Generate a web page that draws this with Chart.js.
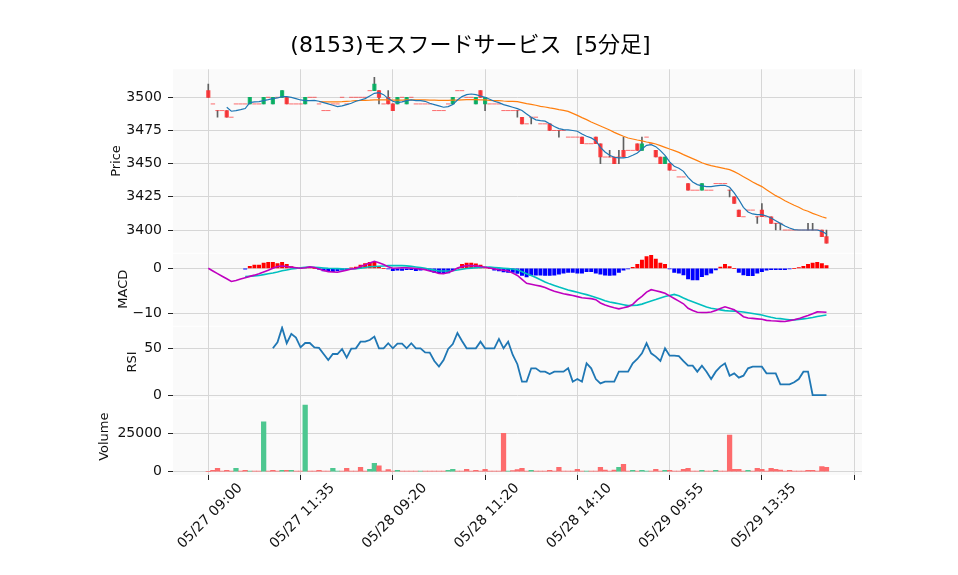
<!DOCTYPE html>
<html><head><meta charset="utf-8">
<script src="https://cdn.jsdelivr.net/npm/chart.js@4.4.1/dist/chart.umd.min.js"></script>
<style>html,body{margin:0;padding:0;background:#fff;}canvas{display:block;}</style>
</head><body>
<canvas id="c" width="958" height="575"></canvas>
<script>
const titleText = '(8153)モスフードサービス  [5分足]';
const tickIdx = [0,20,40,60,80,100,120,140];
const tickLabels = ['05/27 09:00','05/27 11:35','05/28 09:20','05/28 11:20','05/28 14:10','05/29 09:55','05/29 13:35',''];

const open = [3505,3495,3490,3490,3490,3485,3495,3495,3495,3495,
3495,3495,3495,3500,3495,3500,3500,3500,3495,3495,
3495,3495,3500,3500,3495,3490,3490,3495,3495,3500,
3495,3500,3500,3500,3500,3505,3505,3505,3495,3500,
3495,3495,3500,3495,3500,3495,3495,3495,3495,3490,
3490,3490,3495,3495,3505,3505,3500,3500,3495,3505,
3495,3495,3495,3495,3490,3490,3490,3490,3485,3480,
3485,3485,3480,3480,3480,3475,3475,3475,3470,3470,
3470,3470,3465,3465,3470,3465,3455,3455,3455,3455,
3460,3460,3460,3465,3460,3470,3465,3460,3455,3450,
3450,3445,3440,3440,3435,3430,3430,3430,3430,3430,
3435,3435,3435,3430,3425,3415,3410,3415,3415,3410,
3415,3410,3410,3405,3405,3400,3400,3400,3400,3400,
3400,3400,3400,3400,3395];
const high = [3510,3495,3490,3490,3490,3485,3495,3495,3495,3500,
3495,3495,3500,3500,3500,3500,3505,3500,3495,3495,
3495,3500,3500,3500,3495,3490,3490,3495,3495,3500,
3495,3500,3500,3500,3500,3505,3515,3505,3495,3505,
3495,3500,3500,3500,3500,3495,3495,3495,3495,3490,
3490,3490,3495,3500,3505,3505,3500,3500,3500,3505,
3500,3495,3495,3495,3490,3490,3490,3490,3485,3480,
3485,3485,3480,3480,3480,3475,3475,3475,3470,3470,
3470,3470,3465,3465,3470,3465,3455,3460,3455,3460,
3470,3460,3460,3465,3470,3470,3465,3460,3455,3455,
3450,3445,3440,3440,3435,3430,3430,3435,3430,3430,
3435,3435,3435,3430,3425,3415,3410,3415,3415,3410,
3420,3410,3410,3405,3405,3400,3400,3400,3400,3400,
3405,3405,3400,3400,3400];
const low = [3500,3495,3485,3490,3485,3485,3495,3495,3495,3495,
3495,3495,3495,3500,3495,3500,3500,3495,3495,3495,
3495,3495,3500,3500,3495,3490,3490,3495,3495,3500,
3495,3500,3500,3500,3500,3505,3505,3495,3495,3495,
3490,3495,3500,3495,3500,3495,3495,3495,3495,3490,
3490,3490,3495,3495,3505,3505,3500,3500,3495,3500,
3490,3495,3495,3495,3490,3490,3490,3485,3480,3480,
3480,3485,3480,3480,3475,3475,3470,3475,3470,3470,
3470,3465,3465,3465,3465,3450,3455,3455,3450,3450,
3455,3460,3460,3460,3460,3470,3465,3455,3450,3450,
3445,3445,3440,3440,3430,3430,3430,3430,3430,3430,
3435,3435,3435,3425,3420,3410,3410,3415,3415,3405,
3410,3410,3405,3400,3400,3400,3400,3400,3400,3400,
3400,3400,3400,3395,3390];
const close = [3500,3495,3490,3490,3485,3485,3495,3495,3495,3500,
3495,3495,3500,3500,3500,3500,3505,3495,3495,3495,
3495,3500,3500,3500,3495,3490,3490,3495,3495,3500,
3495,3500,3500,3500,3500,3505,3510,3500,3495,3495,
3490,3500,3500,3500,3500,3495,3495,3495,3495,3490,
3490,3490,3495,3500,3505,3505,3500,3500,3500,3500,
3500,3495,3495,3495,3490,3490,3490,3490,3480,3480,
3485,3485,3480,3480,3475,3475,3475,3475,3470,3470,
3470,3465,3465,3465,3465,3455,3455,3455,3450,3455,
3455,3460,3460,3460,3465,3470,3465,3455,3450,3455,
3445,3445,3440,3440,3430,3430,3430,3435,3430,3430,
3435,3435,3435,3430,3420,3410,3410,3415,3415,3410,
3410,3410,3405,3405,3405,3400,3400,3400,3400,3400,
3400,3400,3400,3395,3390];
const volume = [0,900,2200,450,900,450,2200,450,900,400,
450,300,32500,300,900,300,900,900,900,450,
300,43400,450,300,900,450,300,2200,400,450,
2200,450,300,2800,450,1500,5400,3900,450,1300,
450,900,450,300,450,300,400,450,300,450,
300,450,900,1500,450,300,1500,450,900,450,
1500,450,300,450,24900,450,700,1300,2200,450,
900,450,300,450,900,450,2800,450,300,450,
1500,450,450,300,450,2800,1100,450,1100,2800,
4800,450,900,450,900,400,450,1500,450,900,
900,450,300,1500,2200,450,300,900,450,300,
900,450,300,23900,1500,1500,450,900,450,2200,
1500,450,2200,1500,1100,450,900,450,300,450,
900,900,450,3300,2800];
const volumeUpIdx = [6,9,12,16,18,21,27,28,35,36,41,46,52,53,65,70,82,89,92,94,95,99,107,110,117];

const ma5 = [null,null,null,null,3492.5,3489.5,3490,3490.7,3491.5,3496,
3496.5,3496.8,3497.5,3498.2,3499,3499.5,3500.5,3500.5,3500,3499,
3498,3497.5,3497.5,3497.7,3497,3496,3495,3494,3493,3493.5,
3494.5,3495.5,3497,3498,3499,3501,3503,3503.5,3502,3499,
3497,3496,3496.5,3497.5,3498,3497.5,3497.5,3497,3495.5,3494.5,
3493.5,3492.5,3493,3494.5,3498,3500.5,3502,3502.5,3502,3501,
3500,3498.5,3497,3496,3494.5,3493.5,3492.5,3491.5,3490,3487.5,
3485,3483,3482.4,3482,3480,3478,3476.4,3475.6,3475.4,3475,
3474.4,3472.4,3470.6,3469.4,3467.3,3462.3,3458.8,3456.3,3454.8,3454.3,
3454.3,3454.8,3456.3,3458,3461,3463.8,3464.3,3462.8,3459.8,3456.3,
3451.3,3448,3446.5,3444.2,3439.7,3436.2,3434.2,3433.2,3432.7,3432.7,
3433.2,3433.7,3433.7,3432.2,3427.9,3422.9,3417.1,3413.6,3412.1,3411.6,
3411.6,3410.6,3409,3407,3405,3403,3401.5,3400.3,3400,3400,
3400,3400,3400,3399,3397];
const ma25 = [null,null,null,null,null,null,null,null,null,null,
null,null,null,null,null,null,null,null,null,null,
null,null,null,null,3496.7,3496.5,3496.5,3496.5,3496.5,3496.7,
3497.0,3497.2,3497.5,3497.6,3497.7,3497.8,3498.0,3498.1,3498.1,3498.0,
3497.9,3497.9,3497.9,3498.0,3498.1,3498.1,3498.0,3498.0,3497.9,3497.8,
3497.7,3497.7,3497.7,3497.8,3497.9,3498.1,3498.2,3498.2,3498.2,3498.1,
3498.0,3497.7,3497.5,3497.5,3497.2,3497.0,3497.0,3496.7,3496.0,3495.2,
3494.7,3494.0,3493.2,3492.7,3492.0,3491.5,3490.7,3490.2,3489.4,3487.9,
3486.4,3484.7,3483.2,3481.4,3479.9,3478.4,3476.9,3475.4,3473.6,3472.1,
3470.6,3469.3,3468.6,3467.8,3467.1,3466.3,3465.6,3464.8,3463.6,3462.3,
3461.0,3459.8,3458.5,3456.8,3455.3,3453.8,3452.3,3450.7,3449.5,3448.5,
3447.7,3447.0,3446.2,3445.5,3444.0,3442.2,3440.2,3438.2,3436.2,3434.4,
3432.7,3430.4,3428.1,3425.9,3424.1,3422.1,3420.3,3418.6,3417.1,3415.3,
3414.1,3412.5,3411.3,3410.0,3409.0];
const macd = [0,-0.59,-1.19,-1.76,-2.33,-2.92,-2.69,-2.39,-2.09,-1.79,
-1.52,-1.21,-0.81,-0.41,-0.01,0.39,0.52,0.39,0.26,0.13,
0.02,0.13,0.31,0.17,-0.17,-0.48,-0.74,-0.81,-0.87,-0.65,
-0.41,-0.17,-0.02,0.42,0.77,1.19,1.57,1.24,0.86,0.37,
0.01,0.07,0.12,0.13,0.05,-0.03,-0.16,-0.29,-0.60,-0.81,
-1.14,-1.19,-0.94,-0.56,0.06,0.37,0.61,0.59,0.55,0.41,
0.24,0.07,-0.13,-0.32,-0.44,-0.59,-1.07,-1.6,-2.44,-3.35,
-3.56,-3.75,-3.96,-4.27,-4.72,-5.12,-5.39,-5.64,-5.85,-6.06,
-6.30,-6.53,-6.64,-6.74,-6.98,-7.71,-8.17,-8.47,-8.78,-9.01,
-8.79,-8.52,-8.02,-7.04,-6.23,-5.30,-4.76,-5.00,-5.24,-5.57,
-6.13,-6.72,-7.3,-7.89,-8.90,-9.39,-9.78,-9.81,-9.84,-9.71,
-9.36,-8.93,-8.55,-8.89,-9.23,-9.98,-10.76,-11.04,-11.14,-11.24,
-11.33,-11.58,-11.67,-11.73,-11.79,-11.84,-11.63,-11.42,-11.19,-10.85,
-10.50,-10.10,-9.69,-9.70,-9.78];
const signal = [null,null,null,null,null,null,null,null,-1.84,-1.76,
-1.69,-1.60,-1.41,-1.22,-1.03,-0.80,-0.54,-0.36,-0.17,-0.03,
0.12,0.20,0.27,0.25,0.16,0.08,0,-0.04,-0.08,-0.13,
-0.15,-0.15,-0.08,0.03,0.17,0.33,0.41,0.47,0.53,0.59,
0.59,0.59,0.59,0.55,0.42,0.30,0.18,-0.01,-0.22,-0.41,
-0.59,-0.59,-0.59,-0.55,-0.39,-0.22,-0.05,0.04,0.11,0.19,
0.25,0.27,0.19,0.10,0.02,-0.07,-0.16,-0.3,-0.75,-1.21,
-1.60,-2.04,-2.55,-3.03,-3.46,-3.80,-4.15,-4.47,-4.81,-5.07,
-5.33,-5.59,-5.85,-6.17,-6.50,-6.84,-7.19,-7.48,-7.69,-7.90,
-8.09,-8.30,-8.24,-8.18,-7.96,-7.60,-7.26,-6.95,-6.61,-6.28,
-6.04,-5.80,-6.1,-6.61,-7.04,-7.44,-7.84,-8.24,-8.62,-8.87,
-9.05,-9.24,-9.41,-9.48,-9.53,-9.60,-9.70,-9.87,-10.04,-10.20,
-10.40,-10.65,-10.90,-11.10,-11.19,-11.33,-11.46,-11.47,-11.36,-11.24,
-11.11,-10.93,-10.71,-10.53,-10.39];
const macdHist = [null,null,null,null,null,null,null,null,-0.2,0.44,
0.74,0.74,1.19,1.33,1.33,1.04,1.33,0.89,0.37,0.1,
0,0.15,0.1,0,-0.2,-0.6,-0.74,-0.74,-0.6,-0.44,
-0.3,0.1,0.3,0.74,1.04,1.33,1.33,0.3,0,-0.1,
-0.5,-0.4,-0.45,-0.3,-0.3,-0.5,-0.4,-0.3,-0.5,-0.9,
-1.0,-1.1,-1.0,-0.5,0,0.9,1.19,1.19,1.0,0.7,
0.3,0,-0.4,-0.6,-0.8,-0.9,-0.9,-1.15,-1.6,-1.9,
-1.5,-1.5,-1.5,-1.6,-1.6,-1.5,-1.3,-1.1,-0.9,-0.9,
-1.1,-1.1,-0.74,-0.74,-1.1,-1.3,-1.5,-1.6,-1.5,-0.9,
-0.44,-0.1,0.22,0.89,1.85,2.59,2.9,2.07,1.19,0.89,
-0.15,-0.9,-1.1,-1.48,-2.37,-2.59,-2.59,-1.85,-1.48,-1.1,
-0.37,0.3,0.89,0.37,0,-0.89,-1.48,-1.63,-1.63,-1.1,
-0.74,-0.44,-0.3,-0.3,-0.3,-0.3,-0.15,0,0.15,0.44,
0.89,1.19,1.33,1.04,0.59];
const rsi = [null,null,null,null,null,null,null,null,null,null,
null,null,null,null,50.0,56.4,72.1,55.4,65.4,61.4,
51.1,55.7,55.7,51.1,50.4,43.9,37.5,43.9,43.9,49.3,
40.0,49.6,50.0,57.1,57.1,58.9,62.5,50,50,55.4,
50,55,55,50,55.4,50,50,45.7,45.4,36.4,
30.4,37.5,49.3,54.6,66.4,57.9,50,50,50,57.1,
50,50,50,60,50,57.1,42.9,33,14.3,14.3,
28.6,28.6,25,25,22.5,25,25,25,28.6,14.3,
17.1,14.3,33.9,28.6,17.1,12.5,14.3,14.3,14.3,25,
25,25,33.9,38.6,44.6,55.4,44.6,41.1,36.4,50,
42.1,42.1,41.6,36.4,31.4,31.4,25,31.4,25,17.1,
25,30.4,33.9,20.7,23.2,18.6,20.7,28.6,30.4,30.4,
30.4,23.2,23.2,23.2,11.4,11.4,11.4,13.6,17.1,25,
25,0,0,0,0];

const FONT = "'DejaVu Sans','Noto Sans CJK JP',sans-serif";
const UP = 'rgba(0,176,96,0.9)', DN = 'rgba(254,48,50,0.9)';
const VUP = '#4dc790', VDN = '#fd6b6c';

const bodies = [], dojis = [], wicks = [], vols = [], hist = [];
const pts = arr => arr.map((v,i)=>v===null?null:{x:i,y:v}).filter(p=>p);
for (let i=0;i<close.length;i++){
  if (open[i]!==close[i]) bodies.push({x:i,y:[open[i],close[i]]});
  else dojis.push({x:i,y:close[i]});
  if (high[i]>low[i]) wicks.push({x:i,y:[low[i],high[i]]});
  vols.push({x:i,y:volume[i],up:volumeUpIdx.includes(i)});
  if (macdHist[i]!==null) hist.push({x:i,y:macdHist[i]});
}

const panelBg = {
  id:'panelBg',
  beforeDraw(chart){
    const {ctx, chartArea} = chart;
    ctx.save();
    ['yPrice','yMacd','yRsi','yVol'].forEach((id,k)=>{
      const s = chart.scales[id];
      const t = s.top + (k>0?1:0);
      ctx.fillStyle = '#fafafa';
      ctx.fillRect(chartArea.left, t, chartArea.right-chartArea.left, s.bottom-t);
    });
    ctx.restore();
  }
};

const fmt = v => v<0 ? '\u2212'+Math.abs(v) : String(v);
function yAxis(min,max,ticks,title,titlePad,weight,stackWeight){
  return {
    type:'linear', position:'left', stack:'panels', stackWeight, weight, min, max, offset:false,
    border:{display:false},
    grid:{color:'#d6d6d6', lineWidth:1, tickColor:'#222', tickLength:5},
    ticks:{font:{family:FONT,size:14}, color:'#111', padding:6, callback:fmt},
    afterBuildTicks: s => { s.ticks = ticks.map(v=>({value:v})); },
    afterFit: s => { s.width = 94; },
    title:{display:true, text:title, font:{family:FONT,size:13}, color:'#111', padding:{top:titlePad,bottom:0}}
  };
}

new Chart(document.getElementById('c'), {
  type:'bar',
  data:{datasets:[
    {type:'line', label:'MA5', data:pts(ma5), yAxisID:'yPrice', borderColor:'#1f77b4', borderWidth:1.2, pointRadius:0, order:0},
    {type:'line', label:'MA25', data:pts(ma25), yAxisID:'yPrice', borderColor:'#ff7f0e', borderWidth:1.2, pointRadius:0, order:0},
    {type:'bar', label:'body', data:bodies, yAxisID:'yPrice', grouped:false, barThickness:3.5,
      backgroundColor: c => (c.raw && c.raw.y[1]>c.raw.y[0]) ? UP : DN, order:1},
    {type:'line', label:'doji', data:dojis, yAxisID:'yPrice', showLine:false, pointStyle:'line', pointRadius:2.2,
      pointBorderWidth:1, pointBorderColor:'rgba(254,48,50,0.7)', pointBackgroundColor:'rgba(254,48,50,0.7)', order:1},
    {type:'bar', label:'wick', data:wicks, yAxisID:'yPrice', grouped:false, barThickness:1, backgroundColor:'#606060', order:2},
    {type:'line', label:'MACD', data:pts(macd), yAxisID:'yMacd', borderColor:'#bf00bf', borderWidth:1.6, pointRadius:0, order:0},
    {type:'line', label:'Signal', data:pts(signal), yAxisID:'yMacd', borderColor:'#00bfbf', borderWidth:1.6, pointRadius:0, order:0},
    {type:'bar', label:'Hist', data:hist, yAxisID:'yMacd', grouped:false, barThickness:3.3,
      backgroundColor: c => (c.raw && c.raw.y>=0) ? '#ff0000' : '#0000ff', order:2},
    {type:'line', label:'RSI', data:pts(rsi), yAxisID:'yRsi', borderColor:'#1f77b4', borderWidth:1.8, pointRadius:0, order:0},
    {type:'bar', label:'Volume', data:vols, yAxisID:'yVol', grouped:false, barThickness:4.6,
      backgroundColor: c => (c.raw && c.raw.up) ? VUP : VDN, order:1}
  ]},
  options:{
    responsive:false, animation:false, devicePixelRatio:1,
    layout:{padding:{left:79,right:96,top:0,bottom:0}},
    plugins:{
      legend:{display:false}, tooltip:{enabled:false},
      title:{display:true, text:titleText, font:{family:FONT,size:22,weight:'normal'}, color:'#000', padding:{top:32.8,bottom:10.1}}
    },
    scales:{
      x:{type:'linear', position:'bottom', min:-7.65, max:141.7, offset:false,
        border:{display:false},
        grid:{color:'#d6d6d6', tickColor:'#222', tickLength:5, offset:false},
        ticks:{minRotation:45, maxRotation:45, autoSkip:false, font:{family:FONT,size:14}, color:'#111', padding:0, labelOffset:32,
          callback: v => { const k = tickIdx.indexOf(v); return k>=0 ? tickLabels[k] : ''; }},
        afterBuildTicks: s => { s.ticks = tickIdx.map(v=>({value:v})); },
        afterFit: s => { s.height = 100; }
      },
      yPrice: yAxis(3382.9, 3521.1, [3400,3425,3450,3475,3500], 'Price', 29.4, 4, 183.4),
      yMacd: yAxis(-12.76, 3.47, [-10,0], 'MACD', 37, 3, 73),
      yRsi: yAxis(-3.5, 74.2, [0,50], 'RSI', 45.5, 2, 72.6),
      yVol: yAxis(-2148, 47786, [0,25000], 'Volume', 17.4, 1, 76.7)
    }
  },
  plugins:[panelBg]
});
</script>
</body></html>
